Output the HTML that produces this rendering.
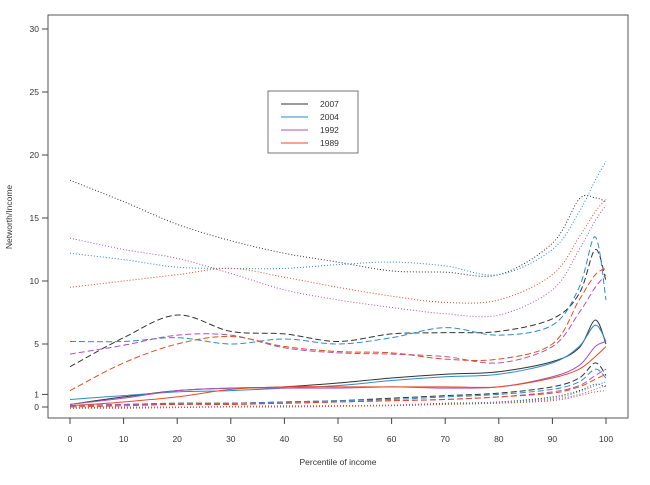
<!DOCTYPE html>
<html><head><meta charset="utf-8"><style>
body{margin:0;background:#fff;font-family:"Liberation Sans",sans-serif}
svg text{font-family:"Liberation Sans",sans-serif;font-size:8.5px;fill:#333}
</style></head><body>
<svg id="c" width="650" height="480"></svg>
<script>
const pct=[0,10,20,30,40,50,60,70,80,90,95,98,100];
const years=['2007','2004','1992','1989'];
const colors=['#333333','#2a8ad0','#b050b8','#e84a20'];
const hiDot=[[18,16.3,14.5,13.2,12.2,11.5,10.8,10.7,10.5,13,16.5,16.6,16.3],[12.2,11.7,11.1,11,11,11.3,11.5,11.2,10.5,12.5,15.5,18,19.5],[13.4,12.5,11.8,10.6,9.3,8.5,7.9,7.4,7.3,9.3,12.5,14.8,16],[9.5,10,10.5,11,10.3,9.5,8.8,8.3,8.5,10.5,13.5,15.5,16.5]];
const midDash=[[3.2,5.5,7.3,6,5.8,5.2,5.8,5.9,6,7,9,12.5,10],[5.2,5.2,5.5,5,5.4,5,5.5,6.3,5.7,6.5,9.5,13.5,8.5],[4.2,4.9,5.7,5.7,4.7,4.3,4.2,4,3.5,4.8,7.5,9.5,10.5],[1.3,3.5,5,5.6,4.8,4.4,4.3,3.8,3.8,5,8.5,10.5,11]];
const median=[[0.2,0.8,1.3,1.5,1.6,1.9,2.3,2.6,2.8,3.6,4.7,6.9,5],[0.6,0.9,1.2,1.3,1.5,1.7,2.1,2.4,2.6,3.5,4.8,6.5,5.2],[0.2,0.7,1.3,1.5,1.5,1.5,1.6,1.5,1.6,2.4,3.3,4.8,5.2],[0.1,0.4,0.8,1.4,1.6,1.6,1.6,1.6,1.6,2.3,3,4,4.8]];
const loDash=[[0.1,0.2,0.3,0.3,0.4,0.5,0.7,0.9,1.1,1.6,2.3,3.5,2.5],[0.1,0.2,0.3,0.3,0.4,0.5,0.6,0.8,1,1.4,2,3,2.3],[0.1,0.2,0.2,0.3,0.3,0.4,0.5,0.6,0.8,1.2,1.7,2.5,3],[0,0.1,0.2,0.2,0.3,0.4,0.5,0.6,0.8,1.1,1.6,2.2,2.6]];
const loDot=[[0,0,0,0,0.05,0.1,0.15,0.3,0.4,0.8,1.3,1.8,1.6],[-0.1,-0.05,0,0,0.05,0.1,0.15,0.25,0.4,0.7,1.2,1.7,2],[0,0,0,0.05,0.1,0.1,0.15,0.25,0.35,0.6,1,1.4,1.7],[-0.1,-0.1,-0.05,0,0,0.05,0.1,0.2,0.3,0.5,0.9,1.2,1.3]];
const yTicks=[0,1,5,10,15,20,25,30];
const xTicks=[0,10,20,30,40,50,60,70,80,90,100];
const X=p=>70+5.36*p, Y=v=>407-12.6*v;
const svg=document.getElementById('c'),NS='http://www.w3.org/2000/svg';
function el(t,a,txt){const e=document.createElementNS(NS,t);for(const k in a)e.setAttribute(k,a[k]);if(txt!=null)e.textContent=txt;svg.appendChild(e);return e;}
let f=el('rect',{x:48,y:15,width:580,height:403,fill:'none',stroke:'#444','stroke-width':0.9});

yTicks.forEach(v=>{let t=el('line',{x1:42,x2:48,y1:Y(v),y2:Y(v),stroke:'#444'});
let l=el('text',{x:39,y:Y(v)+3,'text-anchor':'end'},v);});
xTicks.forEach(v=>{let t=el('line',{x1:X(v),x2:X(v),y1:418,y2:424,stroke:'#444'});
let l=el('text',{x:X(v),y:442,'text-anchor':'middle'},v);});
let xl=el('text',{x:338,y:465,'text-anchor':'middle'},'Percentile of income');
let yl=el('text',{x:12,y:217,'text-anchor':'middle',transform:'rotate(-90 12 217)'},'Networth/Income');
function path(vals){let pts=pct.map((p,i)=>[X(p),Y(vals[i])]);let d='M'+pts[0][0]+','+pts[0][1];
for(let i=1;i<pts.length;i++){const p0=pts[i-2]||pts[i-1],p1=pts[i-1],p2=pts[i],p3=pts[i+1]||p2;
d+=' C'+(p1[0]+(p2[0]-p0[0])/6)+','+(p1[1]+(p2[1]-p0[1])/6)+' '+(p2[0]-(p3[0]-p1[0])/6)+','+(p2[1]-(p3[1]-p1[1])/6)+' '+p2[0]+','+p2[1];}return d;}
const sets=[[hiDot,'1,2','high-dotted'],[midDash,'6,3','mid-dashed'],[median,'','median'],[loDash,'6,3','low-dashed'],[loDot,'1,2','low-dotted']];
sets.forEach(([arr,da,nm])=>arr.forEach((vals,i)=>{let p=el('path',{d:path(vals),fill:'none',stroke:colors[i],'stroke-width':1,'stroke-dasharray':da});
}));
let lb=el('rect',{x:268,y:91,width:90,height:62,fill:'#fff',stroke:'#555','stroke-width':0.8});
years.forEach((y,i)=>{let yy=104+i*13;let ln=el('line',{x1:281,x2:308,y1:yy,y2:yy,stroke:colors[i],'stroke-width':1});
let t=el('text',{x:320,y:yy+3},y);});
</script></body></html>
